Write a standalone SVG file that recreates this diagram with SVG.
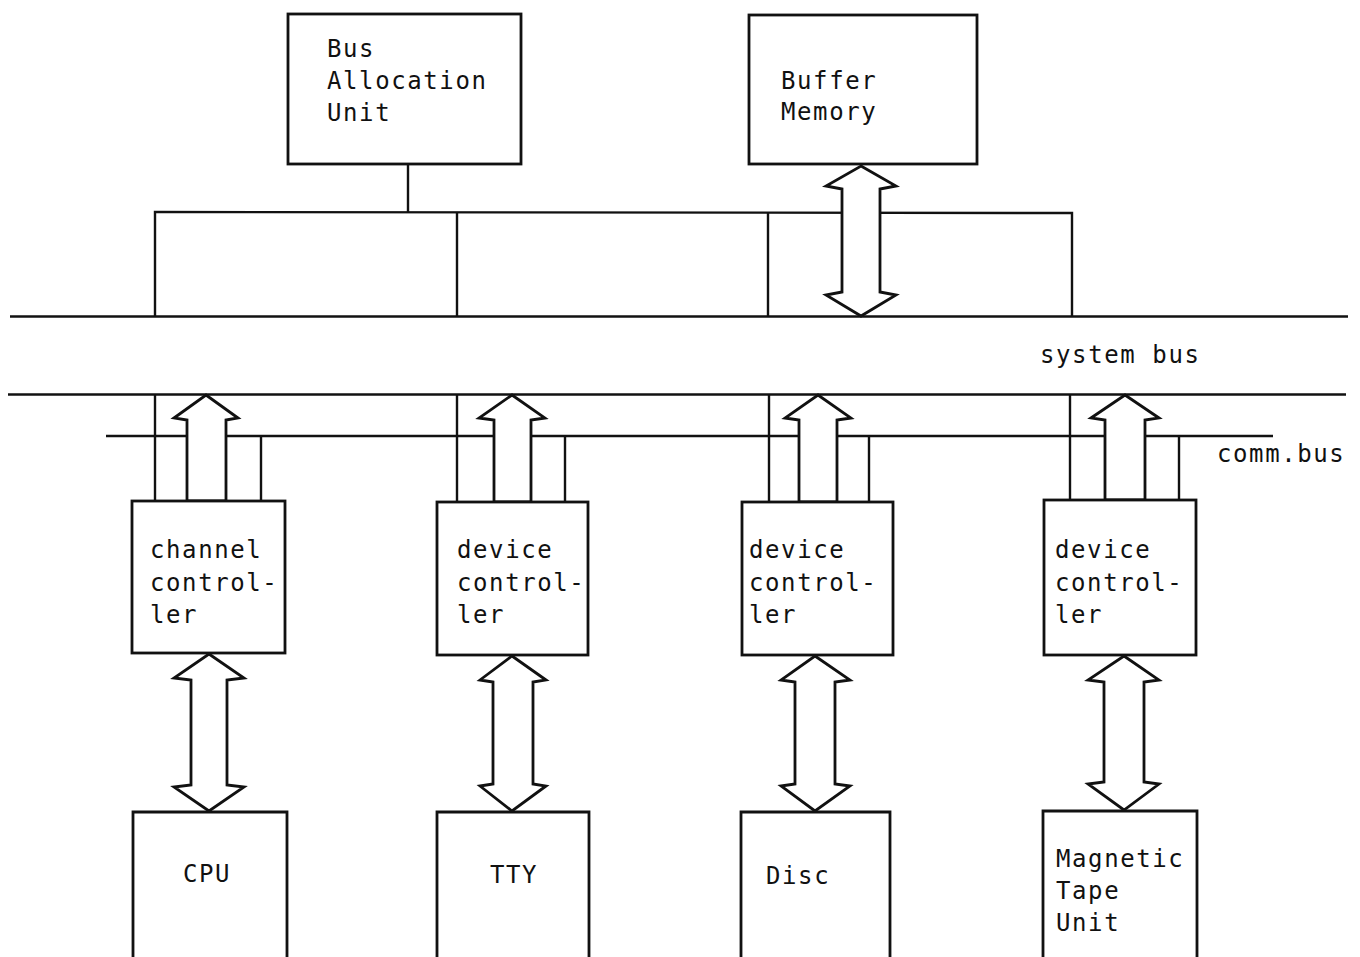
<svg xmlns="http://www.w3.org/2000/svg" width="1360" height="957" viewBox="0 0 1360 957">
  <style>
    .box { fill: #fff; stroke: #111; stroke-width: 2.8; }
    .line { fill: none; stroke: #111; stroke-width: 2.4; }
    .arrow { fill: #fff; stroke: #111; stroke-width: 2.8; stroke-linejoin: miter; }
    .label { font-family: "DejaVu Sans Mono", "Liberation Mono", monospace; font-size: 24px; letter-spacing: 1.6px; fill: #111; }
  </style>
  <rect width="1360" height="957" fill="#fff"/>

  <!-- buses and bus frame -->
  <g id="connectors">
    <line class="line" x1="10" y1="316.5" x2="1348" y2="316.5"/>
    <line class="line" x1="8" y1="394.5" x2="1346" y2="394.5"/>
    <line class="line" x1="106" y1="436" x2="1273" y2="436"/>
    <polyline class="line" points="155,317 155,212 1072,213 1072,317"/>
    <line class="line" x1="457" y1="212" x2="457" y2="317"/>
    <line class="line" x1="768" y1="213" x2="768" y2="317"/>
    <line class="line" x1="408" y1="164" x2="408" y2="212"/>

    <!-- controller taps onto system bus and comm bus -->
    <line class="line" x1="155" y1="395" x2="155" y2="501"/>
    <line class="line" x1="261" y1="436" x2="261" y2="501"/>
    <line class="line" x1="457" y1="395" x2="457" y2="502"/>
    <line class="line" x1="565" y1="436" x2="565" y2="502"/>
    <line class="line" x1="769" y1="395" x2="769" y2="502"/>
    <line class="line" x1="869" y1="436" x2="869" y2="502"/>
    <line class="line" x1="1070" y1="395" x2="1070" y2="500"/>
    <line class="line" x1="1179" y1="436" x2="1179" y2="500"/>

    <!-- upward data arrows into the system bus -->
    <polygon class="arrow" points="206,395 238,418 226,420 226,501 187,501 187,420 174,418"/>
    <polygon class="arrow" points="512,395 545,418 531,420 531,502 494,502 494,420 479,418"/>
    <polygon class="arrow" points="818,395 851,418 837,420 837,502 799,502 799,420 785,418"/>
    <polygon class="arrow" points="1125,395 1159,418 1145,420 1145,500 1105,500 1105,420 1091,418"/>

    <!-- buffer memory double arrow -->
    <polygon class="arrow" points="861,166 896,186 880,189 880,292 896,295 861,316 826,295 842,292 842,189 826,186"/>

    <!-- controller to device double arrows -->
    <polygon class="arrow" points="209,654 244,678 227,680 227,785 244,787 209,811 174,787 191,785 191,680 174,678"/>
    <polygon class="arrow" points="512,656 546,680 533,682 533,784 546,786 512,811 480,786 493,784 493,682 480,680"/>
    <polygon class="arrow" points="815,656 850,680 835,682 835,784 850,786 815,811 781,786 795,784 795,682 781,680"/>
    <polygon class="arrow" points="1124,656 1159,680 1144,682 1144,782 1159,784 1124,810 1088,784 1104,782 1104,682 1088,680"/>
  </g>

  <g id="bus-allocation-unit">
    <rect class="box" x="288" y="14" width="233" height="150"/>
    <text class="label" x="327" y="57">Bus</text>
    <text class="label" x="327" y="89">Allocation</text>
    <text class="label" x="327" y="121">Unit</text>
  </g>

  <g id="buffer-memory">
    <rect class="box" x="749" y="15" width="228" height="149"/>
    <text class="label" x="781" y="89">Buffer</text>
    <text class="label" x="781" y="120">Memory</text>
  </g>

  <g id="bus-labels">
    <text class="label" x="1040" y="363">system bus</text>
    <text class="label" x="1217" y="462">comm.bus</text>
  </g>

  <g id="channel-controller">
    <rect class="box" x="132" y="501" width="153" height="152"/>
    <text class="label" x="150" y="558">channel</text>
    <text class="label" x="150" y="591">control-</text>
    <text class="label" x="150" y="623">ler</text>
  </g>

  <g id="tty-controller">
    <rect class="box" x="437" y="502" width="151" height="153"/>
    <text class="label" x="457" y="558">device</text>
    <text class="label" x="457" y="591">control-</text>
    <text class="label" x="457" y="623">ler</text>
  </g>

  <g id="disc-controller">
    <rect class="box" x="742" y="502" width="151" height="153"/>
    <text class="label" x="749" y="558">device</text>
    <text class="label" x="749" y="591">control-</text>
    <text class="label" x="749" y="623">ler</text>
  </g>

  <g id="tape-controller">
    <rect class="box" x="1044" y="500" width="152" height="155"/>
    <text class="label" x="1055" y="558">device</text>
    <text class="label" x="1055" y="591">control-</text>
    <text class="label" x="1055" y="623">ler</text>
  </g>

  <g id="cpu">
    <polyline class="box" points="133,960 133,812 287,812 287,960"/>
    <text class="label" x="183" y="882">CPU</text>
  </g>

  <g id="tty">
    <polyline class="box" points="437,960 437,812 589,812 589,960"/>
    <text class="label" x="490" y="883">TTY</text>
  </g>

  <g id="disc">
    <polyline class="box" points="741,960 741,812 890,812 890,960"/>
    <text class="label" x="766" y="884">Disc</text>
  </g>

  <g id="magnetic-tape-unit">
    <polyline class="box" points="1043,960 1043,811 1197,811 1197,960"/>
    <text class="label" x="1056" y="867">Magnetic</text>
    <text class="label" x="1056" y="899">Tape</text>
    <text class="label" x="1056" y="931">Unit</text>
  </g>
</svg>
